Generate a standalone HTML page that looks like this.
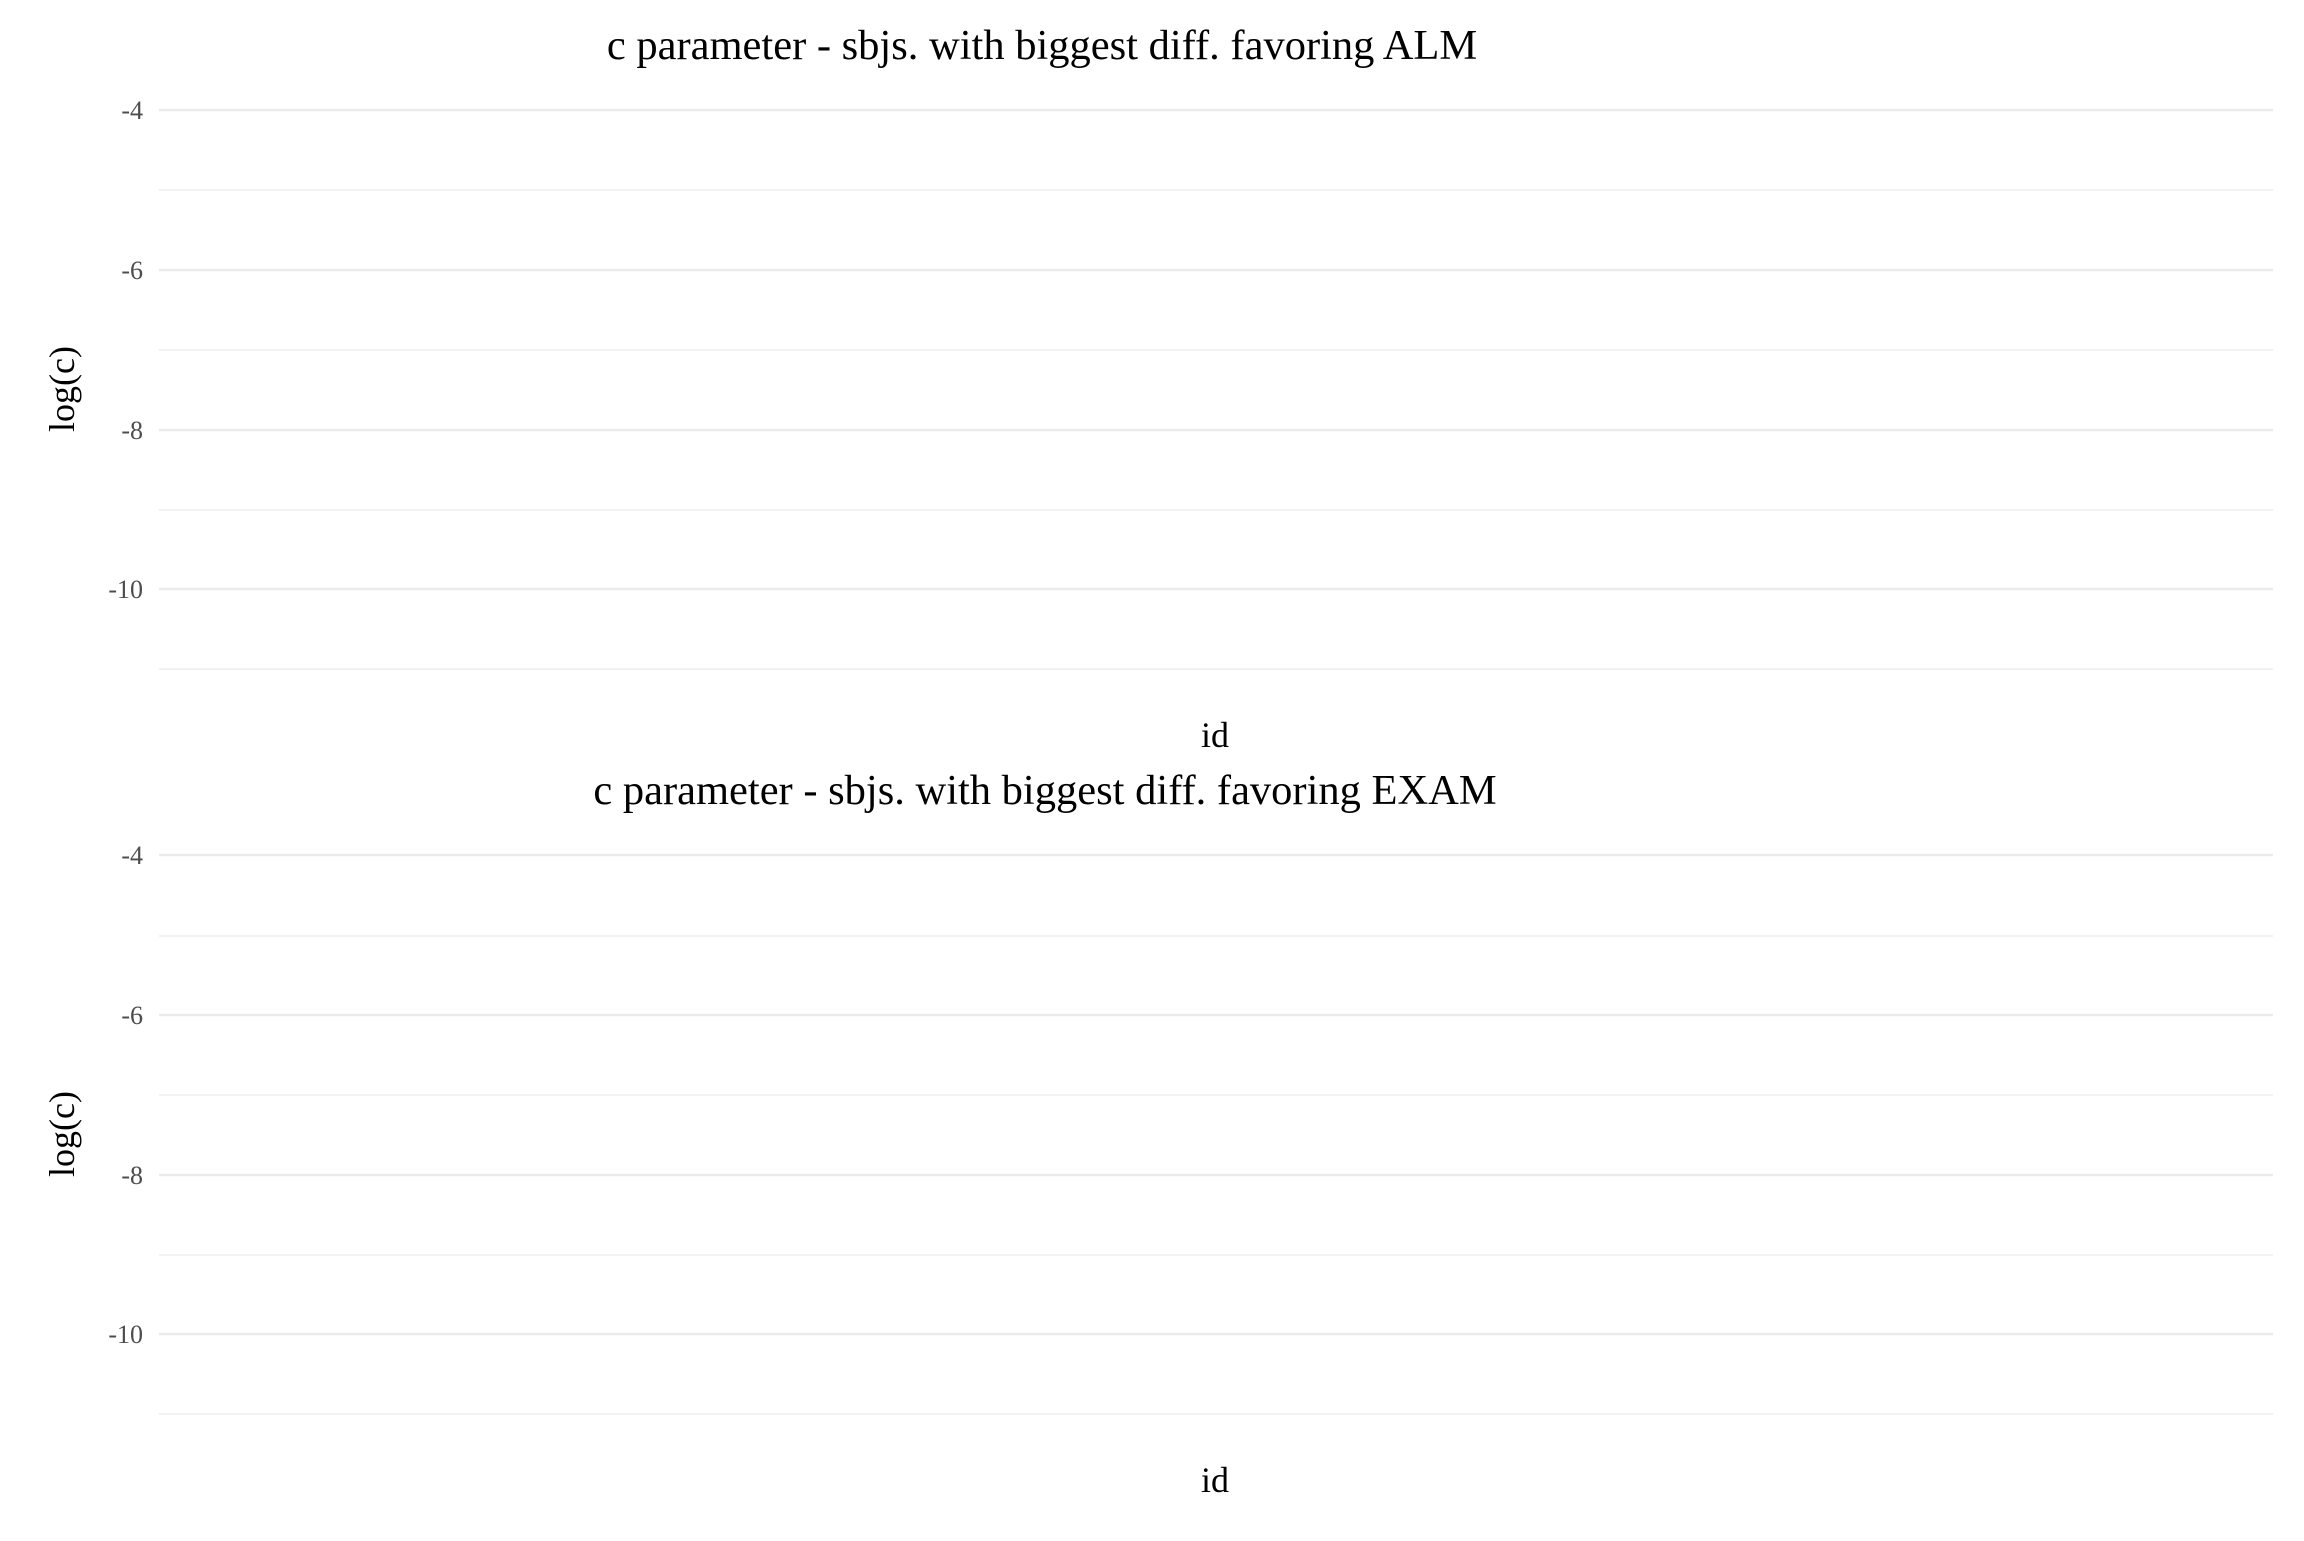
<!DOCTYPE html>
<html><head><meta charset="utf-8"><style>html,body{margin:0;padding:0;background:#fff}</style></head>
<body>
<svg width="2304" height="1536" viewBox="0 0 2304 1536" xmlns="http://www.w3.org/2000/svg" font-family="Liberation Serif, serif">
<rect width="2304" height="1536" fill="#fff"/>
<g stroke="#ebebeb">
<line x1="159" x2="2273" y1="110" y2="110" stroke-width="2.5"/>
<line x1="159" x2="2273" y1="190" y2="190" stroke-width="1.3"/>
<line x1="159" x2="2273" y1="270" y2="270" stroke-width="2.5"/>
<line x1="159" x2="2273" y1="350" y2="350" stroke-width="1.3"/>
<line x1="159" x2="2273" y1="430" y2="430" stroke-width="2.5"/>
<line x1="159" x2="2273" y1="510" y2="510" stroke-width="1.3"/>
<line x1="159" x2="2273" y1="589" y2="589" stroke-width="2.5"/>
<line x1="159" x2="2273" y1="669" y2="669" stroke-width="1.3"/>
<line x1="159" x2="2273" y1="855" y2="855" stroke-width="2.5"/>
<line x1="159" x2="2273" y1="936" y2="936" stroke-width="1.3"/>
<line x1="159" x2="2273" y1="1015" y2="1015" stroke-width="2.5"/>
<line x1="159" x2="2273" y1="1095" y2="1095" stroke-width="1.3"/>
<line x1="159" x2="2273" y1="1175" y2="1175" stroke-width="2.5"/>
<line x1="159" x2="2273" y1="1255" y2="1255" stroke-width="1.3"/>
<line x1="159" x2="2273" y1="1334" y2="1334" stroke-width="2.5"/>
<line x1="159" x2="2273" y1="1414" y2="1414" stroke-width="1.3"/>
</g>
<g font-size="26" fill="#4d4d4d" text-anchor="end">
<text x="143" y="119">-4</text><text x="143" y="279">-6</text><text x="143" y="439">-8</text><text x="143" y="598">-10</text>
<text x="143" y="864">-4</text><text x="143" y="1024">-6</text><text x="143" y="1184">-8</text><text x="143" y="1343">-10</text>
</g>
<g font-size="42.5" fill="#000" text-anchor="middle">
<text x="1042" y="59">c parameter - sbjs. with biggest diff. favoring ALM</text>
<text x="1045" y="804">c parameter - sbjs. with biggest diff. favoring EXAM</text>
</g>
<g font-size="36" fill="#000" text-anchor="middle">
<text x="1215" y="747">id</text>
<text x="1215" y="1492">id</text>
<text transform="translate(74,389) rotate(-90)">log(c)</text>
<text transform="translate(74,1134) rotate(-90)">log(c)</text>
</g>
</svg>
</body></html>
